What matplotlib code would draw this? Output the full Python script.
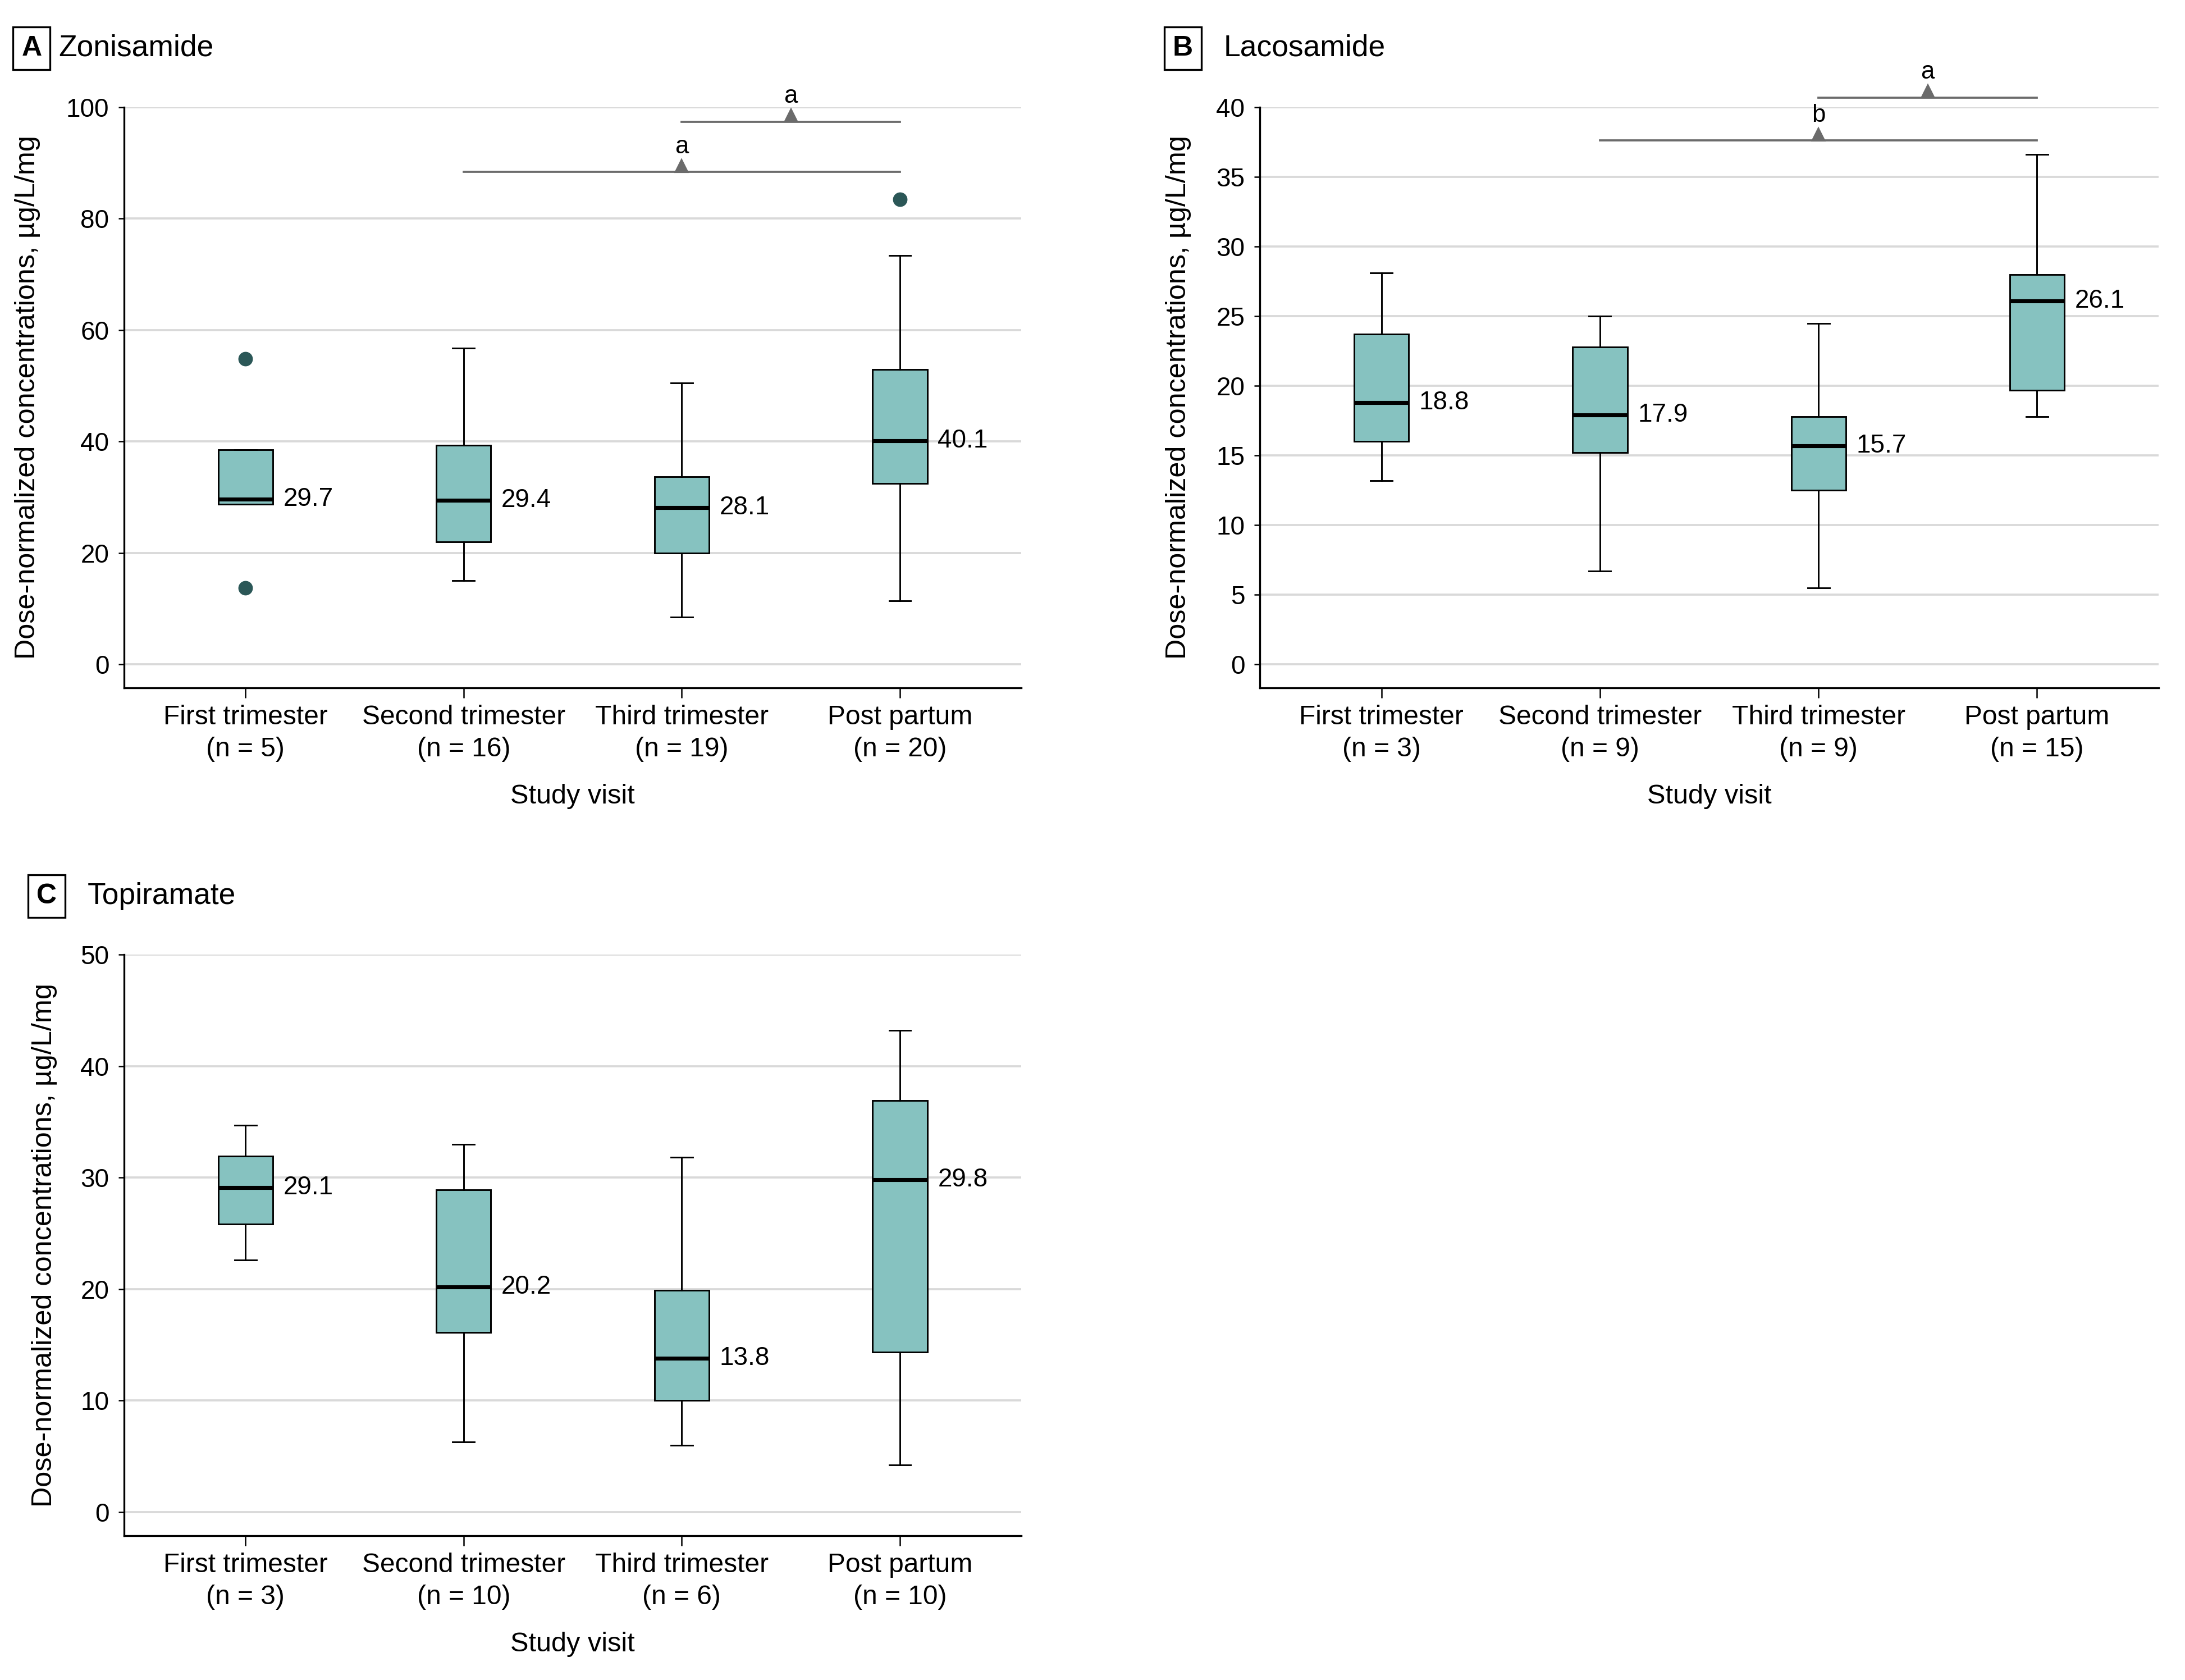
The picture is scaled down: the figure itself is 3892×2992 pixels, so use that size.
import matplotlib
matplotlib.use("Agg")
import matplotlib.pyplot as plt
from matplotlib import font_manager
from matplotlib.transforms import offset_copy

_installed = {f.name for f in font_manager.fontManager.ttflist}
FAMILY = [f for f in ["Liberation Sans Narrow", "Liberation Sans", "DejaVu Sans"] if f in _installed]
plt.rcParams["font.family"] = FAMILY

# ---------------- data ----------------
categories = ["First trimester", "Second trimester", "Third trimester", "Post partum"]

A_n = [5, 16, 19, 20]
A_q1 = [28.7, 22.0, 20.0, 32.5]
A_med = [29.7, 29.4, 28.1, 40.1]
A_q3 = [38.5, 39.3, 33.7, 52.9]
A_whislo = [28.7, 15.0, 8.5, 11.4]
A_whishi = [38.5, 56.8, 50.5, 73.4]
A_fliers = [[54.8, 13.7], [], [], [83.5]]
A_sig_from = [1, 2]
A_sig_to = [3, 3]
A_sig_y = [88.4, 97.4]
A_sig_label = ["a", "a"]

B_n = [3, 9, 9, 15]
B_q1 = [16.0, 15.2, 12.5, 19.7]
B_med = [18.8, 17.9, 15.7, 26.1]
B_q3 = [23.7, 22.8, 17.8, 28.0]
B_whislo = [13.2, 6.7, 5.5, 17.8]
B_whishi = [28.1, 25.0, 24.5, 36.6]
B_fliers = [[], [], [], []]
B_sig_from = [1, 2]
B_sig_to = [3, 3]
B_sig_y = [37.6, 40.7]
B_sig_label = ["b", "a"]

C_n = [3, 10, 6, 10]
C_q1 = [25.8, 16.1, 10.0, 14.35]
C_med = [29.1, 20.2, 13.8, 29.8]
C_q3 = [31.9, 28.9, 19.9, 36.9]
C_whislo = [22.6, 6.3, 6.0, 4.2]
C_whishi = [34.7, 33.0, 31.8, 43.2]
C_fliers = [[], [], [], []]

# ---------------- style ----------------
BOX_COLOR = "#86C2C0"
FLIER_COLOR = "#2B5757"
SIG_COLOR = "#6B6B6B"
GRID_COLOR = "#D9D9D9"
FS = 11

fig = plt.figure(figsize=(3892 / 300, 2992 / 300), dpi=300)


def panel(rect, q1, med, q3, lo, hi, fliers, n, ylim, yticks, ylabel_x,
          sig_from=(), sig_to=(), sig_y=(), sig_label=()):
    ax = fig.add_axes(rect)
    stats = []
    for i in range(len(med)):
        stats.append(dict(med=med[i], q1=q1[i], q3=q3[i], whislo=lo[i],
                          whishi=hi[i], fliers=fliers[i]))
    width = 0.25
    ax.bxp(stats, positions=range(len(med)), widths=width, capwidths=0.1,
           patch_artist=True,
           boxprops=dict(facecolor=BOX_COLOR, edgecolor="black", linewidth=0.7),
           medianprops=dict(color="black", linewidth=1.7),
           whiskerprops=dict(color="black", linewidth=0.7),
           capprops=dict(color="black", linewidth=0.7),
           flierprops=dict(marker="o", markerfacecolor=FLIER_COLOR,
                           markeredgecolor=FLIER_COLOR, markersize=5.2),
           zorder=3)
    for i, m in enumerate(med):
        ax.annotate(f"{m:.1f}", xy=(i + width / 2, m), xytext=(4.5, 0),
                    textcoords="offset points", ha="left", va="center",
                    fontsize=FS)
    ax.set_xlim(-0.556, len(med) - 1 + 0.556)
    ax.set_ylim(*ylim)
    ax.set_yticks(yticks)
    ax.set_xticks(range(len(med)))
    ax.set_xticklabels([f"{c}\n(n = {k})" for c, k in zip(categories, n)],
                       linespacing=1.35)
    ax.tick_params(axis="x", length=4.2, width=0.6, pad=3, labelsize=FS + 0.5)
    ax.tick_params(axis="y", length=2.4, width=0.6, pad=4, labelsize=FS)
    ax.yaxis.grid(True, color=GRID_COLOR, linewidth=0.9)
    ax.set_axisbelow(True)
    for s in ("top", "right"):
        ax.spines[s].set_visible(False)
    for s in ("left", "bottom"):
        ax.spines[s].set_linewidth(0.8)
    ax.set_ylabel("Dose-normalized concentrations, µg/L/mg", fontsize=12.1)
    ax.yaxis.set_label_coords(ylabel_x, 0.5)
    ax.set_xlabel("Study visit", fontsize=FS + 0.7)
    ax.xaxis.set_label_coords(0.5, -0.165)

    ms = 5.0
    tri_tr = offset_copy(ax.transData, fig=fig, y=ms / 2, units="points")
    for f, t, y, lab in zip(sig_from, sig_to, sig_y, sig_label):
        ax.plot([f, t], [y, y], color=SIG_COLOR, linewidth=0.9, clip_on=False)
        mid = (f + t) / 2
        ax.plot([mid], [y], marker="^", markersize=ms, color=SIG_COLOR,
                linestyle="none", transform=tri_tr, clip_on=False)
        ax.annotate(lab, xy=(mid, y), xytext=(0, 8), textcoords="offset points",
                    ha="center", va="baseline", fontsize=FS - 0.5,
                    annotation_clip=False)
    return ax


def panel_title(x_box, x_title, y, letter, title):
    fig.text(x_box, y, letter, ha="center", va="center", fontsize=12,
             fontweight="bold",
             bbox=dict(boxstyle="square,pad=0.3", facecolor="white",
                       edgecolor="black", linewidth=0.8))
    fig.text(x_title, y, title, ha="left", va="center", fontsize=12.8)


axA = panel([0.0568, 0.5906, 0.4106, 0.3456], A_q1, A_med, A_q3, A_whislo,
            A_whishi, A_fliers, A_n, (-4.2, 100), range(0, 101, 20), -0.093,
            A_sig_from, A_sig_to, A_sig_y, A_sig_label)
axB = panel([0.5766, 0.5906, 0.4113, 0.3456], B_q1, B_med, B_q3, B_whislo,
            B_whishi, B_fliers, B_n, (-1.67, 40), range(0, 41, 5), -0.076,
            B_sig_from, B_sig_to, B_sig_y, B_sig_label)
axC = panel([0.0568, 0.0859, 0.4106, 0.3459], C_q1, C_med, C_q3, C_whislo,
            C_whishi, C_fliers, C_n, (-2.13, 50), range(0, 51, 10), -0.0745)

panel_title(0.0145, 0.0267, 0.9714, "A", "Zonisamide")
panel_title(0.5414, 0.5599, 0.9714, "B", "Lacosamide")
panel_title(0.0213, 0.0401, 0.4666, "C", "Topiramate")

fig.savefig("out.png", dpi=300, facecolor="white")
